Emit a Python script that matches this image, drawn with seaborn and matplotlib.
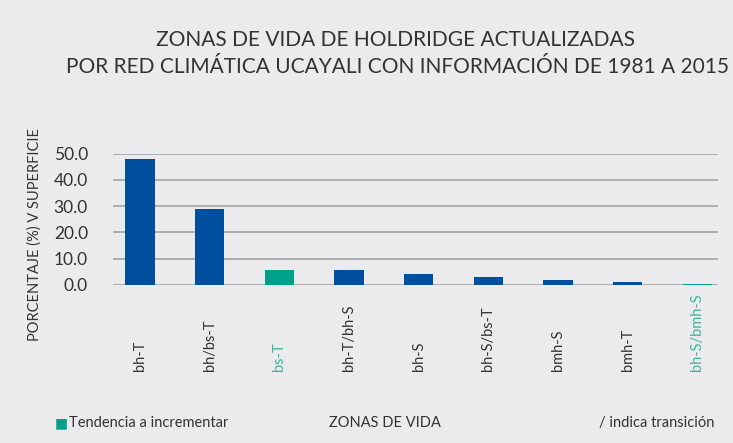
import pandas as pd
import matplotlib.pyplot as plt
import seaborn as sns

# -------------------------------
# Data
# -------------------------------
zonas = ['bh-T', 'bh/bs-T', 'bs-T', 'bh-T/bh-S', 'bh-S',
         'bh-S/bs-T', 'bmh-S', 'bmh-T', 'bh-S/bmh-S']
porcentaje = [48.0, 29.0, 5.8, 5.7, 4.2, 3.1, 1.9, 1.1, 0.4]
tendencia = ['no', 'no', 'si', 'no', 'no', 'no', 'no', 'no', 'si']
y_ticks = [0, 10, 20, 30, 40, 50]

df = pd.DataFrame({'zona': zonas, 'pct': porcentaje, 'tend': tendencia})

# -------------------------------
# Style
# -------------------------------
bg = '#EBEBED'
blue = '#004F9F'
teal = '#00A08A'
teal_txt = '#3BB5A0'
txt = '#333333'
grid = '#A8A8A8'

sns.set_style('white')
plt.rcParams['font.family'] = ['Lato', 'DejaVu Sans']

fig = plt.figure(figsize=(7.33, 4.43), dpi=100, facecolor=bg)
ax = fig.add_axes([0.154, 0.357, 0.826, 0.296], facecolor=bg)

sns.barplot(data=df, x='zona', y='pct', hue='tend',
            palette={'no': blue, 'si': teal}, dodge=False,
            legend=False, width=0.42, ax=ax, saturation=1, linewidth=0)

ax.set_ylim(0, 50)
ax.set_xlim(-0.39, 8.30)
ax.set_yticks(y_ticks)
ax.set_yticklabels([f'{v:.1f}' for v in y_ticks], fontsize=12.5, color=txt)
ax.yaxis.grid(True, color=grid, linewidth=1.3)
ax.set_axisbelow(True)
for s in ax.spines.values():
    s.set_visible(False)
ax.tick_params(axis='y', length=0, pad=18)

# x tick labels, rotated and anchored at their start
ax.tick_params(axis='x', length=0, pad=62)
ax.set_xticks(range(len(zonas)))
ax.set_xticklabels(zonas)
for lab, t in zip(ax.get_xticklabels(), tendencia):
    lab.set_rotation(90)
    lab.set_rotation_mode('anchor')
    lab.set_ha('left')
    lab.set_va('center')
    lab.set_fontsize(10.5)
    lab.set_color(teal_txt if t == 'si' else txt)

ax.set_xlabel('')
ax.set_ylabel('')

# -------------------------------
# Texts
# -------------------------------
fig.text(0.54, 0.91, 'ZONAS DE VIDA DE HOLDRIDGE ACTUALIZADAS',
         ha='center', va='center', fontsize=15, color=txt)
fig.text(0.542, 0.848, 'POR RED CLIMÁTICA UCAYALI CON INFORMACIÓN DE 1981 A 2015',
         ha='center', va='center', fontsize=15, color=txt)

fig.text(0.047, 0.47, 'PORCENTAJE (%) V SUPERFICIE', rotation=90,
         ha='center', va='center', fontsize=10.5, color=txt)

fig.text(0.083, 0.045, '■', ha='center', va='center', fontsize=10, color=teal)
fig.text(0.094, 0.045, 'Tendencia a incrementar', ha='left', va='center',
         fontsize=10.5, color=txt)
fig.text(0.525, 0.045, 'ZONAS DE VIDA', ha='center', va='center',
         fontsize=10.5, color=txt)
fig.text(0.975, 0.045, '/ indica transición', ha='right', va='center',
         fontsize=10.5, color=txt)

plt.savefig('out.png', dpi=100, facecolor=bg)
plt.close()
